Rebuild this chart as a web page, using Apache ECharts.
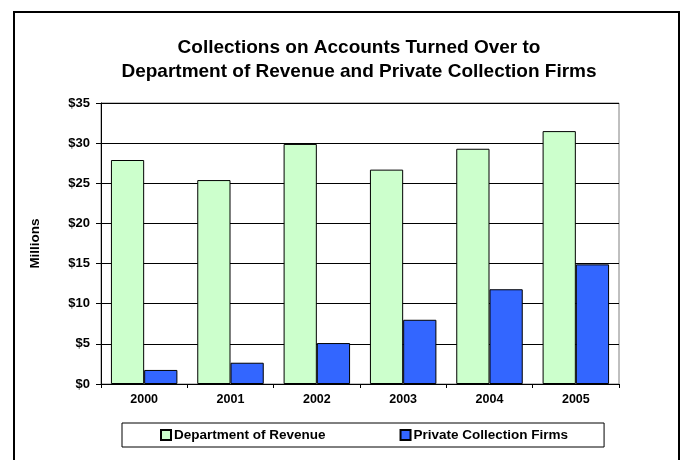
<!DOCTYPE html>
<html><head><meta charset="utf-8">
<script src="https://cdn.jsdelivr.net/npm/echarts@6/dist/echarts.min.js"></script>
<style>html,body{margin:0;padding:0;background:#fff}#c{width:688px;height:460px}</style>
</head><body><div id="c"></div>
<script>
var categories = ['2000','2001','2002','2003','2004','2005'];
var deptRevenue = [27.9, 25.4, 29.9, 26.7, 29.3, 31.5];
var privateFirms = [1.75, 2.65, 5.1, 8.0, 11.8, 14.9];
var seriesNames = ['Department of Revenue', 'Private Collection Firms'];
var titleText = 'Collections on Accounts Turned Over to\nDepartment of Revenue and Private Collection Firms';
var yTitle = 'Millions';

var chart = echarts.init(document.getElementById('c'), null, {renderer:'canvas'});
var font = 'Liberation Sans, Arial, sans-serif';
chart.setOption({
  animation: false,
  backgroundColor: '#fff',
  textStyle: {fontFamily: font},
  graphic: [
    {type:'rect', shape:{x:14, y:12, width:665, height:470}, style:{fill:'none', stroke:'#000', lineWidth:2}, silent:true},
    {type:'text', x:359, y:60, style:{text:titleText, font:'bold 19px ' + font, fill:'#000', textAlign:'center', textVerticalAlign:'middle', lineHeight:24}}
  ],
  grid: {left:101, right:69, top:103, bottom:76, show:true, borderColor:'#808080', borderWidth:1},
  legend: {
    data: seriesNames, left:122, top:423, orient:'horizontal',
    padding:[5,36,5,38], itemWidth:10, itemHeight:10, itemGap:74,
    borderColor:'#000', borderWidth:1,
    textStyle:{fontSize:13.5, fontWeight:'bold', color:'#000', padding:[0,0,0,-2]},
    icon:'rect'
  },
  xAxis: {
    type:'category', data:categories,
    axisLine:{lineStyle:{color:'#000', width:1}},
    axisTick:{show:true, length:4, lineStyle:{color:'#000'}},
    axisLabel:{fontSize:12.5, fontWeight:'bold', color:'#000', margin:9}
  },
  yAxis: {
    type:'value', min:0, max:35, interval:5,
    name: yTitle, nameLocation:'middle', nameGap:59, nameRotate:90,
    nameTextStyle:{fontSize:13.5, fontWeight:'bold', color:'#000'},
    axisLine:{show:true, lineStyle:{color:'#000', width:1}},
    axisTick:{show:true, length:5, lineStyle:{color:'#000'}},
    axisLabel:{fontSize:13, fontWeight:'bold', color:'#000', margin:11, formatter:function(v){return '$' + v;}},
    splitLine:{lineStyle:{color:'#000', width:1}}
  },
  series: [
    {name:seriesNames[0], type:'bar', data:deptRevenue, barGap:'0%', barCategoryGap:'23%',
     itemStyle:{color:'#ccffcc', borderColor:'#000', borderWidth:1}},
    {name:seriesNames[1], type:'bar', data:privateFirms, barGap:'0%', barCategoryGap:'23%',
     itemStyle:{color:'#3366ff', borderColor:'#000', borderWidth:1}}
  ]
});
</script></body></html>
